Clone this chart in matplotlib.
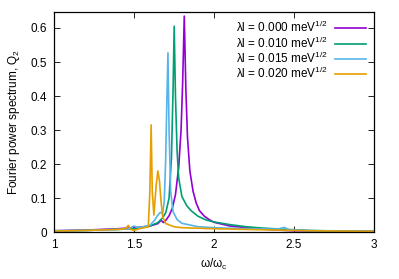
import matplotlib
matplotlib.use("Agg")
import matplotlib.pyplot as plt

plt.rcParams['font.family'] = ['Liberation Sans', 'DejaVu Sans']
plt.rcParams['mathtext.fontset'] = 'custom'
plt.rcParams['mathtext.rm'] = 'Liberation Sans'
plt.rcParams['mathtext.it'] = 'Liberation Sans'

# lambda l = 0.000
x_000 = [1.0, 1.2, 1.4, 1.5, 1.55, 1.6, 1.65, 1.67, 1.685, 1.7, 1.72, 1.74, 1.76, 1.78, 1.795,
         1.805, 1.815, 1.825, 1.835, 1.85, 1.87, 1.89, 1.91, 1.94, 1.97, 2.0, 2.1, 2.2, 2.3,
         2.4, 2.5, 2.7, 3.0]
y_000 = [0.004, 0.006, 0.010, 0.013, 0.015, 0.018, 0.025, 0.035, 0.028, 0.035, 0.048, 0.07,
         0.11, 0.19, 0.30, 0.44, 0.635, 0.42, 0.28, 0.18, 0.12, 0.085, 0.063, 0.047, 0.037,
         0.029, 0.018, 0.013, 0.009, 0.006, 0.004, 0.003, 0.002]

# lambda l = 0.010
x_010 = [1.0, 1.2, 1.4, 1.5, 1.55, 1.6, 1.65, 1.68, 1.7, 1.72, 1.735, 1.745, 1.752, 1.76,
         1.77, 1.78, 1.8, 1.83, 1.86, 1.9, 1.95, 2.0, 2.1, 2.2, 2.3, 2.45, 2.6, 2.8, 3.0]
y_010 = [0.004, 0.005, 0.008, 0.010, 0.013, 0.018, 0.028, 0.042, 0.058, 0.10, 0.22, 0.42,
         0.605, 0.40, 0.24, 0.16, 0.105, 0.078, 0.062, 0.047, 0.036, 0.030, 0.022, 0.016,
         0.012, 0.008, 0.005, 0.003, 0.002]

# lambda l = 0.015
x_015 = [1.0, 1.2, 1.4, 1.47, 1.5, 1.52, 1.55, 1.6, 1.63, 1.65, 1.665, 1.68, 1.69, 1.698,
         1.706, 1.713, 1.72, 1.73, 1.745, 1.77, 1.8, 1.9, 2.0, 2.2, 2.4, 2.44, 2.47, 2.6,
         3.0]
y_015 = [0.003, 0.005, 0.008, 0.010, 0.018, 0.014, 0.015, 0.020, 0.035, 0.050, 0.058, 0.055,
         0.09, 0.20, 0.38, 0.527, 0.30, 0.12, 0.06, 0.037, 0.026, 0.016, 0.013, 0.010,
         0.009, 0.014, 0.007, 0.004, 0.002]

# lambda l = 0.020
x_020 = [1.0, 1.2, 1.4, 1.45, 1.465, 1.48, 1.5, 1.55, 1.59, 1.6, 1.608, 1.615, 1.625,
         1.64, 1.65, 1.66, 1.67, 1.68, 1.7, 1.75, 1.8, 2.0, 2.2, 2.4, 2.6, 3.0]
y_020 = [0.003, 0.005, 0.008, 0.010, 0.020, 0.008, 0.005, 0.012, 0.015, 0.12, 0.315,
         0.12, 0.05, 0.14, 0.18, 0.15, 0.09, 0.045, 0.025, 0.016, 0.013, 0.010, 0.008,
         0.006, 0.004, 0.002]

labels = ["λl = 0.000 meV$^{1/2}$", "λl = 0.010 meV$^{1/2}$",
          "λl = 0.015 meV$^{1/2}$", "λl = 0.020 meV$^{1/2}$"]
colors = ['#9400d3', '#009e73', '#56b4e9', '#e69f00']

fig = plt.figure(figsize=(3.99, 2.79), dpi=100)
ax = fig.add_axes([0.135, 0.168, 0.802, 0.789])

series = [(x_000, y_000), (x_010, y_010), (x_015, y_015), (x_020, y_020)]
for (xs, ys), lab, c in zip(series, labels, colors):
    ax.plot(xs, ys, color=c, linewidth=1.2, label=lab)

ax.set_xlim(1, 3)
ax.set_ylim(0, 0.647)
ax.set_xticks([1, 1.5, 2, 2.5, 3])
ax.set_xticklabels(["1", "1.5", "2", "2.5", "3"])
ax.set_yticks([0, 0.1, 0.2, 0.3, 0.4, 0.5, 0.6])
ax.set_yticklabels(["0", "0.1", "0.2", "0.3", "0.4", "0.5", "0.6"])
ax.tick_params(direction='in', top=True, right=True, labelsize=8.5, length=4, width=0.6, pad=5)
for s in ax.spines.values():
    s.set_linewidth(0.9)

ax.set_xlabel("ω/ω$_\\mathrm{c}$", fontsize=8.5, labelpad=4)
ax.set_ylabel("Fourier power spectrum, Q$_2$", fontsize=8.5, labelpad=6)

leg = ax.legend(loc='upper right', fontsize=8.5, frameon=False, markerfirst=False,
                handlelength=2.6, labelspacing=0.0, borderaxespad=0.3,
                handletextpad=0.6)

fig.savefig("out.png", dpi=100)
